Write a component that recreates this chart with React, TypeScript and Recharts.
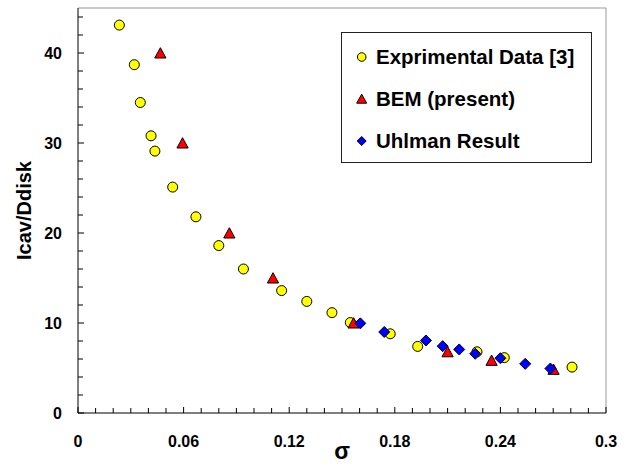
import { ScatterChart, Scatter, XAxis, YAxis, ReferenceLine, Legend, Label } from "recharts";

const seriesNames = ["Exprimental Data [3]", "BEM (present)", "Uhlman Result"];

const expX = [0.0235, 0.032, 0.0354, 0.0415, 0.0437, 0.0538, 0.067, 0.08, 0.094, 0.1157, 0.13, 0.1443, 0.1547, 0.1774, 0.193, 0.2267, 0.2422, 0.2807];
const expY = [43.1, 38.7, 34.5, 30.8, 29.1, 25.1, 21.8, 18.6, 16.0, 13.6, 12.4, 11.15, 10.05, 8.8, 7.4, 6.8, 6.15, 5.1];

const bemX = [0.0468, 0.0594, 0.086, 0.1108, 0.1566, 0.21, 0.235, 0.2702];
const bemY = [40, 30, 20, 15, 10, 6.8, 5.85, 4.85];

const uhlX = [0.1604, 0.174, 0.1977, 0.2072, 0.2166, 0.2257, 0.24, 0.2541, 0.2684];
const uhlY = [9.96, 9.0, 8.06, 7.43, 7.06, 6.58, 6.09, 5.46, 4.94];

const xTicks = [0, 0.01, 0.02, 0.03, 0.04, 0.05, 0.06, 0.07, 0.08, 0.09, 0.1, 0.11, 0.12, 0.13, 0.14, 0.15, 0.16, 0.17, 0.18, 0.19, 0.2, 0.21, 0.22, 0.23, 0.24, 0.25, 0.26, 0.27, 0.28, 0.29, 0.3];
const xMajor = [0, 0.06, 0.12, 0.18, 0.24, 0.3];
const yTicks = [0, 2, 4, 6, 8, 10, 12, 14, 16, 18, 20, 22, 24, 26, 28, 30, 32, 34, 36, 38, 40, 42, 44];
const yMajor = [0, 10, 20, 30, 40];

const FONT = "'Liberation Sans', Arial, sans-serif";

const toPoints = (xs: number[], ys: number[]) => xs.map((x, i) => ({ x, y: ys[i] }));

const CircleDot = (p: any) => <circle cx={p.cx} cy={p.cy} r={5} fill="#ffff00" stroke="#000" strokeWidth={1} />;
const TriDot = (p: any) => (
  <polygon
    points={`${p.cx},${p.cy - 5.3} ${p.cx + 5.6},${p.cy + 5} ${p.cx - 5.6},${p.cy + 5}`}
    fill="#ff0000" stroke="#000" strokeWidth={1}
  />
);
const DiamondDot = (p: any) => (
  <polygon
    points={`${p.cx},${p.cy - 5.5} ${p.cx + 5.5},${p.cy} ${p.cx},${p.cy + 5.5} ${p.cx - 5.5},${p.cy}`}
    fill="#0000ff" stroke="#000" strokeWidth={1}
  />
);

const XTick = (props: any) => {
  const { x, y, payload } = props;
  const major = xMajor.includes(payload.value);
  return (
    <g>
      <line x1={x} x2={x} y1={y} y2={y - (major ? 6 : 5)} stroke="#000" strokeWidth={1} />
      {major && (
        <text x={x} y={y + 34} textAnchor="middle" fontFamily={FONT} fontWeight="bold" fontSize={16} fill="#000">
          {payload.value}
        </text>
      )}
    </g>
  );
};

const YTick = (props: any) => {
  const { x, y, payload } = props;
  const major = yMajor.includes(payload.value);
  return (
    <g>
      <line x1={x} x2={x + (major ? 6 : 5)} y1={y} y2={y} stroke="#000" strokeWidth={1} />
      {major && (
        <text x={x - 16} y={y} dy="0.36em" textAnchor="end" fontFamily={FONT} fontWeight="bold" fontSize={16} fill="#000">
          {payload.value}
        </text>
      )}
    </g>
  );
};

const legendIcon = (type: string, cx: number, cy: number) => {
  if (type === "triangle")
    return <polygon points={`${cx},${cy - 4.8} ${cx + 5},${cy + 4.2} ${cx - 5},${cy + 4.2}`} fill="#ff0000" stroke="#000" />;
  if (type === "diamond")
    return <polygon points={`${cx},${cy - 4.5} ${cx + 4.5},${cy} ${cx},${cy + 4.5} ${cx - 4.5},${cy}`} fill="#0000ff" stroke="#000" />;
  return <circle cx={cx} cy={cy} r={4.3} fill="#ffff00" stroke="#000" />;
};

const LegendBox = ({ payload }: any) => {
  const items = [...(payload || [])].sort(
    (a: any, b: any) => seriesNames.indexOf(a.value) - seriesNames.indexOf(b.value)
  );
  return (
    <svg width={252} height={132} style={{ display: "block" }}>
      <rect x={0.5} y={0.5} width={250} height={130} fill="#fff" stroke="#222" strokeWidth={1} />
      {items.map((entry: any, i: number) => (
        <g key={entry.value}>
          {legendIcon(entry.type, 20.7, 25 + i * 42)}
          <text x={35} y={32 + i * 42} fontFamily={FONT} fontWeight="bold" fontSize={20.5} fill="#000">
            {entry.value}
          </text>
        </g>
      ))}
    </svg>
  );
};

export default function App() {
  return (
    <div style={{ width: 629, height: 464, background: "#fff", position: "relative" }}>
      <style>{"body{margin:0}"}</style>
      <ScatterChart width={629} height={464} margin={{ top: 8, right: 23, bottom: 0, left: 0 }}>
        <XAxis
          type="number" dataKey="x" domain={[0, 0.3]} ticks={xTicks} interval={0} allowDataOverflow
          height={51} tickSize={0} tickMargin={0} tickLine={false} axisLine={{ stroke: "#000" }} tick={<XTick />}
        >
          <Label
            content={(p: any) => (
              <text x={p.viewBox.x + p.viewBox.width / 2} y={p.viewBox.y + 46} textAnchor="middle"
                fontFamily={FONT} fontWeight="bold" fontSize={23} fill="#000">σ</text>
            )}
          />
        </XAxis>
        <YAxis
          type="number" dataKey="y" domain={[0, 45]} ticks={yTicks} interval={0} allowDataOverflow
          width={78} tickSize={0} tickMargin={0} tickLine={false} axisLine={{ stroke: "#000" }} tick={<YTick />}
        >
          <Label
            content={(p: any) => {
              const cy = p.viewBox.y + p.viewBox.height / 2;
              return (
                <text x={31} y={cy} transform={`rotate(-90 31 ${cy})`} textAnchor="middle"
                  fontFamily={FONT} fontWeight="bold" fontSize={20} fill="#000">Icav/Ddisk</text>
              );
            }}
          />
        </YAxis>
        <ReferenceLine y={45} stroke="#999" strokeWidth={1} />
        <ReferenceLine x={0.3} stroke="#999" strokeWidth={1} />
        <Legend
          layout="horizontal" verticalAlign="middle" align="center"
          wrapperStyle={{ top: 32, left: 341, width: 252, height: 132 }}
          content={<LegendBox />}
        />
        <Scatter name={seriesNames[0]} data={toPoints(expX, expY)} legendType="circle" shape={<CircleDot />} isAnimationActive={false} />
        <Scatter name={seriesNames[1]} data={toPoints(bemX, bemY)} legendType="triangle" shape={<TriDot />} isAnimationActive={false} />
        <Scatter name={seriesNames[2]} data={toPoints(uhlX, uhlY)} legendType="diamond" shape={<DiamondDot />} isAnimationActive={false} />
      </ScatterChart>
    </div>
  );
}
